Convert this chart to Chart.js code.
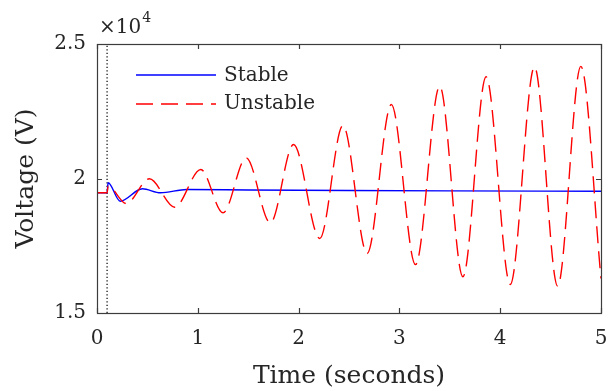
<!doctype html>
<html lang="en">
<head>
  <meta charset="utf-8">
  <style>
    * {
      margin: 0;
      padding: 0;
    }

    body {
      background: #fff;
    }

    .chartBox {
      width: 608px;
      height: 391px;
    }
  </style>
</head>
<body>
<div class="chartBox">
  <canvas id="myChart"></canvas>
</div>
<script src="https://cdn.jsdelivr.net/npm/chart.js"></script>
<script>
  // setup - values
  const stableT = [0, 0.1, 0.11, 0.23, 0.45, 0.63, 0.89, 1.5, 2.5, 3.5, 5]
  const stableV = [19468, 19468, 19840, 19156, 19617, 19468, 19590, 19575, 19555, 19540, 19528]

  const unstableT = [0, 0.1, 0.11, 0.29, 0.52, 0.77, 1.03, 1.25, 1.48, 1.72, 1.95, 2.21, 2.44, 2.68,
    2.92, 3.16, 3.40, 3.63, 3.86, 4.10, 4.34, 4.57, 4.80, 5]
  const unstableV = [19468, 19468, 19714, 19070, 19990, 18933, 20335, 18725, 20770, 18350, 21264, 17770,
    21970, 17212, 22750, 16800, 23430, 16346, 23780, 16060, 24150, 16000, 24170, 16283]

  const faultTime = 0.1
  const xTicks = [0, 1, 2, 3, 4, 5]
  const yTicks = [15000, 20000, 25000]
  const seriesNames = ['Stable', 'Unstable']

  const FONT = '"DejaVu Serif", serif'
  const TEXT = '#262626'
  const blue = '#0000ff'
  const red = '#ff0000'
  const redDash = [17, 8]

  Chart.defaults.font.family = FONT
  Chart.defaults.color = TEXT

  function toXY(ts, vs) {
    return ts.map((t, i) => ({ x: t, y: vs[i] }))
  }

  // frame, inward ticks, exponent and legend drawn MATLAB style
  const matlabBox = {
    id: 'matlabBox',
    afterDatasetsDraw(chart) {
      const { ctx, chartArea: a, scales } = chart
      const x = scales.x, y = scales.y
      ctx.save()
      ctx.strokeStyle = '#3c3c3c'
      ctx.lineWidth = 1.2
      ctx.beginPath()
      xTicks.forEach(v => {
        const px = Math.round(x.getPixelForValue(v)) + 0.5
        ctx.moveTo(px, a.bottom); ctx.lineTo(px, a.bottom - 5)
        ctx.moveTo(px, a.top); ctx.lineTo(px, a.top + 5)
      })
      yTicks.forEach(v => {
        const py = Math.round(y.getPixelForValue(v)) + 0.5
        ctx.moveTo(a.left, py); ctx.lineTo(a.left + 5, py)
        ctx.moveTo(a.right, py); ctx.lineTo(a.right - 5, py)
      })
      ctx.stroke()
      ctx.strokeRect(Math.round(a.left) + 0.5, Math.round(a.top) + 0.5,
        Math.round(a.right - a.left), Math.round(a.bottom - a.top))

      // x10^4 exponent
      ctx.fillStyle = TEXT
      ctx.textBaseline = 'alphabetic'
      ctx.font = '20px ' + FONT
      ctx.fillText('×10', a.left + 2, a.top - 11)
      const w = ctx.measureText('×10').width
      ctx.font = '14px ' + FONT
      ctx.fillText('4', a.left + 2 + w + 1, a.top - 22)

      // legend
      const lx = 136, ly = [75, 104]
      const cols = [blue, red]
      const dashes = [[], redDash]
      ctx.lineWidth = 1.4
      for (let i = 0; i < 2; i++) {
        ctx.strokeStyle = cols[i]
        ctx.setLineDash(dashes[i])
        ctx.beginPath()
        ctx.moveTo(lx, ly[i]); ctx.lineTo(lx + 80, ly[i])
        ctx.stroke()
      }
      ctx.setLineDash([])
      ctx.font = '20px ' + FONT
      ctx.fillStyle = TEXT
      ctx.fillText(seriesNames[0], 224, 81)
      ctx.fillText(seriesNames[1], 224, 109)
      ctx.restore()
    }
  }

  const data = {
    datasets: [{
      label: seriesNames[0],
      data: toXY(stableT, stableV),
      borderColor: blue,
      borderWidth: 1.4,
      pointRadius: 0,
      cubicInterpolationMode: 'monotone',
      order: 1
    }, {
      label: seriesNames[1],
      data: toXY(unstableT, unstableV),
      borderColor: red,
      borderWidth: 1.4,
      borderDash: redDash,
      pointRadius: 0,
      cubicInterpolationMode: 'monotone',
      order: 0
    }, {
      label: 'fault',
      data: [{ x: faultTime, y: yTicks[0] }, { x: faultTime, y: yTicks[yTicks.length - 1] }],
      borderColor: '#000',
      borderWidth: 1.2,
      borderDash: [1.3, 2.2],
      pointRadius: 0,
      order: 2
    }]
  }

  const config = {
    type: 'line',
    data,
    plugins: [matlabBox],
    options: {
      responsive: true,
      maintainAspectRatio: false,
      animation: false,
      layout: { padding: { top: 44, right: 7, left: 0, bottom: 0 } },
      plugins: {
        legend: { display: false },
        tooltip: { enabled: false }
      },
      scales: {
        x: {
          type: 'linear',
          min: 0,
          max: 5,
          afterFit: s => { s.height = 78; s.paddingLeft = 0; s.paddingRight = 0 },
          afterBuildTicks: s => { s.ticks = xTicks.map(v => ({ value: v })) },
          grid: { display: false, drawTicks: false },
          border: { display: false },
          ticks: { padding: 14, font: { size: 20 }, color: TEXT, maxRotation: 0 },
          title: { display: true, text: 'Time (seconds)', font: { size: 25 }, color: TEXT, padding: { top: 0, bottom: 0 } }
        },
        y: {
          min: 15000,
          max: 25000,
          afterFit: s => { s.width = 97; s.paddingTop = 0; s.paddingBottom = 0 },
          afterBuildTicks: s => { s.ticks = yTicks.map(v => ({ value: v })) },
          grid: { display: false, drawTicks: false },
          border: { display: false },
          ticks: { padding: 11, font: { size: 20 }, color: TEXT, callback: v => String(v / 1e4) },
          title: { display: true, text: 'Voltage (V)', font: { size: 25 }, color: TEXT, padding: { top: 11, bottom: 0 } }
        }
      }
    }
  }

  // render init block
  const myChart = new Chart(document.getElementById('myChart'), config)
</script>
</body>
</html>
